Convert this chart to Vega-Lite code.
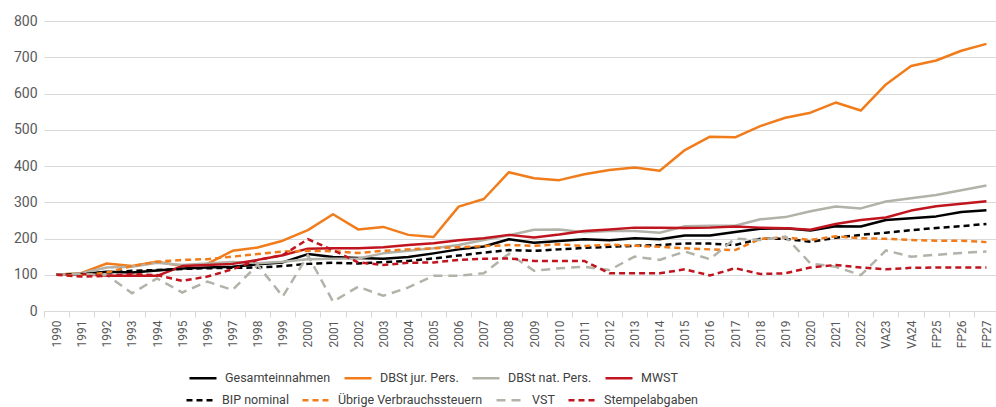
{
"$schema": "https://vega.github.io/schema/vega-lite/v6.json",
"width": 955,
"height": 290,
"autosize": {"type": "none"},
"padding": {"left": 44, "top": 21, "right": 0, "bottom": 96},
"background": "white",
"data": {"values": [
{"j":"1990","r":"Gesamteinnahmen","w":100},{"j":"1991","r":"Gesamteinnahmen","w":102},{"j":"1992","r":"Gesamteinnahmen","w":108},{"j":"1993","r":"Gesamteinnahmen","w":106},{"j":"1994","r":"Gesamteinnahmen","w":112},{"j":"1995","r":"Gesamteinnahmen","w":117},{"j":"1996","r":"Gesamteinnahmen","w":120},{"j":"1997","r":"Gesamteinnahmen","w":122},{"j":"1998","r":"Gesamteinnahmen","w":129},{"j":"1999","r":"Gesamteinnahmen","w":134},{"j":"2000","r":"Gesamteinnahmen","w":157},{"j":"2001","r":"Gesamteinnahmen","w":149},{"j":"2002","r":"Gesamteinnahmen","w":146},{"j":"2003","r":"Gesamteinnahmen","w":144},{"j":"2004","r":"Gesamteinnahmen","w":149},{"j":"2005","r":"Gesamteinnahmen","w":159},{"j":"2006","r":"Gesamteinnahmen","w":170},{"j":"2007","r":"Gesamteinnahmen","w":178},{"j":"2008","r":"Gesamteinnahmen","w":198},{"j":"2009","r":"Gesamteinnahmen","w":188},{"j":"2010","r":"Gesamteinnahmen","w":193},{"j":"2011","r":"Gesamteinnahmen","w":198},{"j":"2012","r":"Gesamteinnahmen","w":195},{"j":"2013","r":"Gesamteinnahmen","w":201},{"j":"2014","r":"Gesamteinnahmen","w":198},{"j":"2015","r":"Gesamteinnahmen","w":208},{"j":"2016","r":"Gesamteinnahmen","w":208},{"j":"2017","r":"Gesamteinnahmen","w":218},{"j":"2018","r":"Gesamteinnahmen","w":227},{"j":"2019","r":"Gesamteinnahmen","w":228},{"j":"2020","r":"Gesamteinnahmen","w":222},{"j":"2021","r":"Gesamteinnahmen","w":234},{"j":"2022","r":"Gesamteinnahmen","w":233},{"j":"VA23","r":"Gesamteinnahmen","w":251},{"j":"VA24","r":"Gesamteinnahmen","w":256},{"j":"FP25","r":"Gesamteinnahmen","w":261},{"j":"FP26","r":"Gesamteinnahmen","w":273},{"j":"FP27","r":"Gesamteinnahmen","w":278},
{"j":"1990","r":"DBSt jur. Pers.","w":100},{"j":"1991","r":"DBSt jur. Pers.","w":105},{"j":"1992","r":"DBSt jur. Pers.","w":131},{"j":"1993","r":"DBSt jur. Pers.","w":124},{"j":"1994","r":"DBSt jur. Pers.","w":136},{"j":"1995","r":"DBSt jur. Pers.","w":124},{"j":"1996","r":"DBSt jur. Pers.","w":130},{"j":"1997","r":"DBSt jur. Pers.","w":166},{"j":"1998","r":"DBSt jur. Pers.","w":175},{"j":"1999","r":"DBSt jur. Pers.","w":194},{"j":"2000","r":"DBSt jur. Pers.","w":223},{"j":"2001","r":"DBSt jur. Pers.","w":267},{"j":"2002","r":"DBSt jur. Pers.","w":225},{"j":"2003","r":"DBSt jur. Pers.","w":232},{"j":"2004","r":"DBSt jur. Pers.","w":210},{"j":"2005","r":"DBSt jur. Pers.","w":204},{"j":"2006","r":"DBSt jur. Pers.","w":288},{"j":"2007","r":"DBSt jur. Pers.","w":309},{"j":"2008","r":"DBSt jur. Pers.","w":383},{"j":"2009","r":"DBSt jur. Pers.","w":366},{"j":"2010","r":"DBSt jur. Pers.","w":361},{"j":"2011","r":"DBSt jur. Pers.","w":377},{"j":"2012","r":"DBSt jur. Pers.","w":389},{"j":"2013","r":"DBSt jur. Pers.","w":396},{"j":"2014","r":"DBSt jur. Pers.","w":387},{"j":"2015","r":"DBSt jur. Pers.","w":444},{"j":"2016","r":"DBSt jur. Pers.","w":481},{"j":"2017","r":"DBSt jur. Pers.","w":479},{"j":"2018","r":"DBSt jur. Pers.","w":510},{"j":"2019","r":"DBSt jur. Pers.","w":533},{"j":"2020","r":"DBSt jur. Pers.","w":547},{"j":"2021","r":"DBSt jur. Pers.","w":575},{"j":"2022","r":"DBSt jur. Pers.","w":553},{"j":"VA23","r":"DBSt jur. Pers.","w":625},{"j":"VA24","r":"DBSt jur. Pers.","w":676},{"j":"FP25","r":"DBSt jur. Pers.","w":691},{"j":"FP26","r":"DBSt jur. Pers.","w":718},{"j":"FP27","r":"DBSt jur. Pers.","w":737},
{"j":"1990","r":"DBSt nat. Pers.","w":100},{"j":"1991","r":"DBSt nat. Pers.","w":104},{"j":"1992","r":"DBSt nat. Pers.","w":120},{"j":"1993","r":"DBSt nat. Pers.","w":122},{"j":"1994","r":"DBSt nat. Pers.","w":133},{"j":"1995","r":"DBSt nat. Pers.","w":127},{"j":"1996","r":"DBSt nat. Pers.","w":131},{"j":"1997","r":"DBSt nat. Pers.","w":135},{"j":"1998","r":"DBSt nat. Pers.","w":132},{"j":"1999","r":"DBSt nat. Pers.","w":136},{"j":"2000","r":"DBSt nat. Pers.","w":143},{"j":"2001","r":"DBSt nat. Pers.","w":144},{"j":"2002","r":"DBSt nat. Pers.","w":145},{"j":"2003","r":"DBSt nat. Pers.","w":159},{"j":"2004","r":"DBSt nat. Pers.","w":166},{"j":"2005","r":"DBSt nat. Pers.","w":173},{"j":"2006","r":"DBSt nat. Pers.","w":182},{"j":"2007","r":"DBSt nat. Pers.","w":196},{"j":"2008","r":"DBSt nat. Pers.","w":209},{"j":"2009","r":"DBSt nat. Pers.","w":224},{"j":"2010","r":"DBSt nat. Pers.","w":225},{"j":"2011","r":"DBSt nat. Pers.","w":217},{"j":"2012","r":"DBSt nat. Pers.","w":221},{"j":"2013","r":"DBSt nat. Pers.","w":221},{"j":"2014","r":"DBSt nat. Pers.","w":216},{"j":"2015","r":"DBSt nat. Pers.","w":234},{"j":"2016","r":"DBSt nat. Pers.","w":235},{"j":"2017","r":"DBSt nat. Pers.","w":235},{"j":"2018","r":"DBSt nat. Pers.","w":253},{"j":"2019","r":"DBSt nat. Pers.","w":259},{"j":"2020","r":"DBSt nat. Pers.","w":275},{"j":"2021","r":"DBSt nat. Pers.","w":288},{"j":"2022","r":"DBSt nat. Pers.","w":283},{"j":"VA23","r":"DBSt nat. Pers.","w":302},{"j":"VA24","r":"DBSt nat. Pers.","w":311},{"j":"FP25","r":"DBSt nat. Pers.","w":320},{"j":"FP26","r":"DBSt nat. Pers.","w":333},{"j":"FP27","r":"DBSt nat. Pers.","w":346},
{"j":"1990","r":"MWST","w":100},{"j":"1991","r":"MWST","w":102},{"j":"1992","r":"MWST","w":97},{"j":"1993","r":"MWST","w":97},{"j":"1994","r":"MWST","w":97},{"j":"1995","r":"MWST","w":124},{"j":"1996","r":"MWST","w":127},{"j":"1997","r":"MWST","w":130},{"j":"1998","r":"MWST","w":141},{"j":"1999","r":"MWST","w":154},{"j":"2000","r":"MWST","w":172},{"j":"2001","r":"MWST","w":173},{"j":"2002","r":"MWST","w":173},{"j":"2003","r":"MWST","w":176},{"j":"2004","r":"MWST","w":182},{"j":"2005","r":"MWST","w":187},{"j":"2006","r":"MWST","w":195},{"j":"2007","r":"MWST","w":201},{"j":"2008","r":"MWST","w":210},{"j":"2009","r":"MWST","w":203},{"j":"2010","r":"MWST","w":211},{"j":"2011","r":"MWST","w":221},{"j":"2012","r":"MWST","w":225},{"j":"2013","r":"MWST","w":230},{"j":"2014","r":"MWST","w":230},{"j":"2015","r":"MWST","w":229},{"j":"2016","r":"MWST","w":230},{"j":"2017","r":"MWST","w":233},{"j":"2018","r":"MWST","w":230},{"j":"2019","r":"MWST","w":228},{"j":"2020","r":"MWST","w":224},{"j":"2021","r":"MWST","w":240},{"j":"2022","r":"MWST","w":251},{"j":"VA23","r":"MWST","w":258},{"j":"VA24","r":"MWST","w":277},{"j":"FP25","r":"MWST","w":289},{"j":"FP26","r":"MWST","w":296},{"j":"FP27","r":"MWST","w":303},
{"j":"1990","r":"BIP nominal","w":100},{"j":"1991","r":"BIP nominal","w":102},{"j":"1992","r":"BIP nominal","w":106},{"j":"1993","r":"BIP nominal","w":111},{"j":"1994","r":"BIP nominal","w":113},{"j":"1995","r":"BIP nominal","w":116},{"j":"1996","r":"BIP nominal","w":118},{"j":"1997","r":"BIP nominal","w":119},{"j":"1998","r":"BIP nominal","w":120},{"j":"1999","r":"BIP nominal","w":124},{"j":"2000","r":"BIP nominal","w":130},{"j":"2001","r":"BIP nominal","w":133},{"j":"2002","r":"BIP nominal","w":131},{"j":"2003","r":"BIP nominal","w":135},{"j":"2004","r":"BIP nominal","w":138},{"j":"2005","r":"BIP nominal","w":145},{"j":"2006","r":"BIP nominal","w":153},{"j":"2007","r":"BIP nominal","w":161},{"j":"2008","r":"BIP nominal","w":168},{"j":"2009","r":"BIP nominal","w":166},{"j":"2010","r":"BIP nominal","w":170},{"j":"2011","r":"BIP nominal","w":174},{"j":"2012","r":"BIP nominal","w":177},{"j":"2013","r":"BIP nominal","w":180},{"j":"2014","r":"BIP nominal","w":182},{"j":"2015","r":"BIP nominal","w":186},{"j":"2016","r":"BIP nominal","w":186},{"j":"2017","r":"BIP nominal","w":182},{"j":"2018","r":"BIP nominal","w":199},{"j":"2019","r":"BIP nominal","w":199},{"j":"2020","r":"BIP nominal","w":191},{"j":"2021","r":"BIP nominal","w":202},{"j":"2022","r":"BIP nominal","w":210},{"j":"VA23","r":"BIP nominal","w":216},{"j":"VA24","r":"BIP nominal","w":223},{"j":"FP25","r":"BIP nominal","w":229},{"j":"FP26","r":"BIP nominal","w":234},{"j":"FP27","r":"BIP nominal","w":240},
{"j":"1990","r":"Übrige Verbrauchssteuern","w":100},{"j":"1991","r":"Übrige Verbrauchssteuern","w":99},{"j":"1992","r":"Übrige Verbrauchssteuern","w":106},{"j":"1993","r":"Übrige Verbrauchssteuern","w":124},{"j":"1994","r":"Übrige Verbrauchssteuern","w":136},{"j":"1995","r":"Übrige Verbrauchssteuern","w":141},{"j":"1996","r":"Übrige Verbrauchssteuern","w":143},{"j":"1997","r":"Übrige Verbrauchssteuern","w":150},{"j":"1998","r":"Übrige Verbrauchssteuern","w":157},{"j":"1999","r":"Übrige Verbrauchssteuern","w":164},{"j":"2000","r":"Übrige Verbrauchssteuern","w":166},{"j":"2001","r":"Übrige Verbrauchssteuern","w":165},{"j":"2002","r":"Übrige Verbrauchssteuern","w":160},{"j":"2003","r":"Übrige Verbrauchssteuern","w":166},{"j":"2004","r":"Übrige Verbrauchssteuern","w":170},{"j":"2005","r":"Übrige Verbrauchssteuern","w":173},{"j":"2006","r":"Übrige Verbrauchssteuern","w":176},{"j":"2007","r":"Übrige Verbrauchssteuern","w":179},{"j":"2008","r":"Übrige Verbrauchssteuern","w":182},{"j":"2009","r":"Übrige Verbrauchssteuern","w":180},{"j":"2010","r":"Übrige Verbrauchssteuern","w":184},{"j":"2011","r":"Übrige Verbrauchssteuern","w":179},{"j":"2012","r":"Übrige Verbrauchssteuern","w":183},{"j":"2013","r":"Übrige Verbrauchssteuern","w":180},{"j":"2014","r":"Übrige Verbrauchssteuern","w":177},{"j":"2015","r":"Übrige Verbrauchssteuern","w":173},{"j":"2016","r":"Übrige Verbrauchssteuern","w":170},{"j":"2017","r":"Übrige Verbrauchssteuern","w":168},{"j":"2018","r":"Übrige Verbrauchssteuern","w":199},{"j":"2019","r":"Übrige Verbrauchssteuern","w":203},{"j":"2020","r":"Übrige Verbrauchssteuern","w":196},{"j":"2021","r":"Übrige Verbrauchssteuern","w":206},{"j":"2022","r":"Übrige Verbrauchssteuern","w":201},{"j":"VA23","r":"Übrige Verbrauchssteuern","w":199},{"j":"VA24","r":"Übrige Verbrauchssteuern","w":196},{"j":"FP25","r":"Übrige Verbrauchssteuern","w":194},{"j":"FP26","r":"Übrige Verbrauchssteuern","w":194},{"j":"FP27","r":"Übrige Verbrauchssteuern","w":190},
{"j":"1990","r":"VST","w":100},{"j":"1991","r":"VST","w":102},{"j":"1992","r":"VST","w":99},{"j":"1993","r":"VST","w":49},{"j":"1994","r":"VST","w":90},{"j":"1995","r":"VST","w":51},{"j":"1996","r":"VST","w":81},{"j":"1997","r":"VST","w":58},{"j":"1998","r":"VST","w":127},{"j":"1999","r":"VST","w":40},{"j":"2000","r":"VST","w":154},{"j":"2001","r":"VST","w":26},{"j":"2002","r":"VST","w":67},{"j":"2003","r":"VST","w":42},{"j":"2004","r":"VST","w":65},{"j":"2005","r":"VST","w":97},{"j":"2006","r":"VST","w":97},{"j":"2007","r":"VST","w":104},{"j":"2008","r":"VST","w":158},{"j":"2009","r":"VST","w":111},{"j":"2010","r":"VST","w":118},{"j":"2011","r":"VST","w":122},{"j":"2012","r":"VST","w":113},{"j":"2013","r":"VST","w":150},{"j":"2014","r":"VST","w":141},{"j":"2015","r":"VST","w":164},{"j":"2016","r":"VST","w":143},{"j":"2017","r":"VST","w":200},{"j":"2018","r":"VST","w":196},{"j":"2019","r":"VST","w":205},{"j":"2020","r":"VST","w":131},{"j":"2021","r":"VST","w":122},{"j":"2022","r":"VST","w":99},{"j":"VA23","r":"VST","w":167},{"j":"VA24","r":"VST","w":150},{"j":"FP25","r":"VST","w":155},{"j":"FP26","r":"VST","w":160},{"j":"FP27","r":"VST","w":164},
{"j":"1990","r":"Stempelabgaben","w":100},{"j":"1991","r":"Stempelabgaben","w":95},{"j":"1992","r":"Stempelabgaben","w":97},{"j":"1993","r":"Stempelabgaben","w":102},{"j":"1994","r":"Stempelabgaben","w":99},{"j":"1995","r":"Stempelabgaben","w":83},{"j":"1996","r":"Stempelabgaben","w":95},{"j":"1997","r":"Stempelabgaben","w":115},{"j":"1998","r":"Stempelabgaben","w":141},{"j":"1999","r":"Stempelabgaben","w":154},{"j":"2000","r":"Stempelabgaben","w":198},{"j":"2001","r":"Stempelabgaben","w":168},{"j":"2002","r":"Stempelabgaben","w":134},{"j":"2003","r":"Stempelabgaben","w":127},{"j":"2004","r":"Stempelabgaben","w":133},{"j":"2005","r":"Stempelabgaben","w":134},{"j":"2006","r":"Stempelabgaben","w":141},{"j":"2007","r":"Stempelabgaben","w":144},{"j":"2008","r":"Stempelabgaben","w":145},{"j":"2009","r":"Stempelabgaben","w":138},{"j":"2010","r":"Stempelabgaben","w":138},{"j":"2011","r":"Stempelabgaben","w":138},{"j":"2012","r":"Stempelabgaben","w":104},{"j":"2013","r":"Stempelabgaben","w":104},{"j":"2014","r":"Stempelabgaben","w":104},{"j":"2015","r":"Stempelabgaben","w":115},{"j":"2016","r":"Stempelabgaben","w":98},{"j":"2017","r":"Stempelabgaben","w":118},{"j":"2018","r":"Stempelabgaben","w":102},{"j":"2019","r":"Stempelabgaben","w":104},{"j":"2020","r":"Stempelabgaben","w":120},{"j":"2021","r":"Stempelabgaben","w":127},{"j":"2022","r":"Stempelabgaben","w":120},{"j":"VA23","r":"Stempelabgaben","w":115},{"j":"VA24","r":"Stempelabgaben","w":119},{"j":"FP25","r":"Stempelabgaben","w":120},{"j":"FP26","r":"Stempelabgaben","w":120},{"j":"FP27","r":"Stempelabgaben","w":120}
]},
"encoding": {
  "x": {"field": "j", "type": "nominal", "sort": null, "bandPosition": 0.5,
        "scale": {"type": "band", "paddingInner": 0, "paddingOuter": 0},
        "axis": {"title": null, "labelAngle": -90, "labelFont": "Roboto", "labelFontSize": 12, "labelColor": "#595959",
                 "tickBand": "extent", "ticks": true, "tickSize": 6, "tickColor": "#D9D9D9", "tickWidth": 1,
                 "domain": true, "domainColor": "#D9D9D9", "domainWidth": 1, "grid": false, "labelPadding": 3}},
  "y": {"field": "w", "type": "quantitative",
        "scale": {"domain": [0, 800], "nice": false},
        "axis": {"title": null, "values": [0,100,200,300,400,500,600,700,800], "labelFont": "Roboto", "labelFontSize": 14,
                 "labelColor": "#595959", "ticks": false, "domain": false, "grid": true, "gridColor": "#D9D9D9", "gridWidth": 1, "labelPadding": 7}}
},
"layer": [
  {
    "transform": [{"filter": {"field": "r", "oneOf": ["Gesamteinnahmen", "DBSt jur. Pers.", "DBSt nat. Pers.", "MWST"]}}],
    "mark": {"type": "line", "strokeWidth": 2.5, "strokeJoin": "round"},
    "encoding": {
      "color": {"field": "r", "type": "nominal",
                "scale": {"domain": ["Gesamteinnahmen", "DBSt jur. Pers.", "DBSt nat. Pers.", "MWST"], "range": ["#000000", "#F07C1B", "#B2B2A9", "#C0141E"]},
                "legend": {"title": null, "orient": "none", "legendX": 144, "legendY": 342, "direction": "horizontal",
                           "symbolType": "stroke", "symbolSize": 729, "symbolStrokeWidth": 2.5, "labelFont": "Roboto", "labelFontSize": 12.5,
                           "labelColor": "#404040", "labelOffset": 7, "columnPadding": 8, "padding": 0}}
    }
  },
  {
    "transform": [{"filter": {"field": "r", "oneOf": ["BIP nominal", "Übrige Verbrauchssteuern", "VST", "Stempelabgaben"]}}],
    "mark": {"type": "line", "strokeWidth": 2.5},
    "encoding": {
      "color": {"field": "r", "type": "nominal",
                "scale": {"domain": ["BIP nominal", "Übrige Verbrauchssteuern", "VST", "Stempelabgaben"], "range": ["#000000", "#F07C1B", "#B2B2A9", "#C0141E"]},
                "legend": {"title": null, "orient": "none", "legendX": 141, "legendY": 364, "direction": "horizontal",
                           "symbolType": "stroke", "symbolSize": 729, "symbolStrokeWidth": 2.5, "labelFont": "Roboto", "labelFontSize": 12.5,
                           "labelColor": "#404040", "labelOffset": 7, "columnPadding": 8, "padding": 0}},
      "strokeDash": {"field": "r", "type": "nominal",
                "scale": {"domain": ["BIP nominal", "Übrige Verbrauchssteuern", "VST", "Stempelabgaben"], "range": [[6,4],[6,4],[9,6],[6,4]]},
                "legend": {"title": null, "orient": "none", "legendX": 141, "legendY": 364, "direction": "horizontal",
                           "symbolType": "stroke", "symbolSize": 729, "symbolStrokeWidth": 2.5, "labelFont": "Roboto", "labelFontSize": 12.5,
                           "labelColor": "#404040", "labelOffset": 7, "columnPadding": 8, "padding": 0}}
    }
  }
],
"resolve": {"scale": {"color": "independent", "strokeDash": "independent"}, "legend": {"color": "independent", "strokeDash": "independent"}},
"config": {"view": {"stroke": null}, "font": "Roboto"}
}
